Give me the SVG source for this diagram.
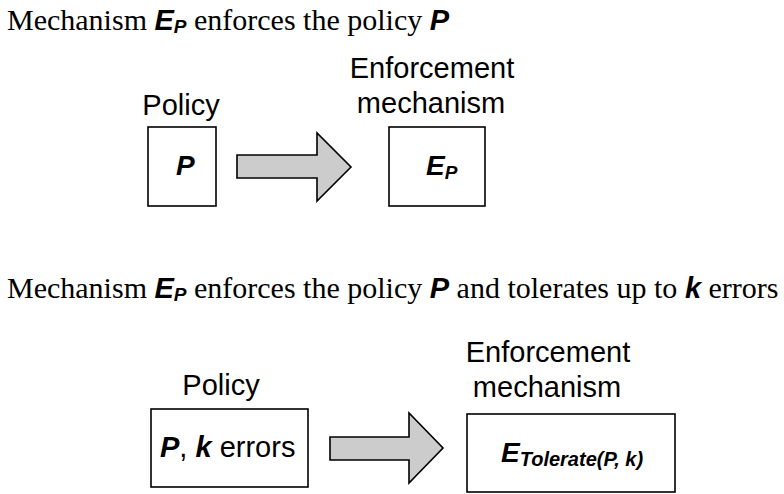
<svg xmlns="http://www.w3.org/2000/svg" width="784" height="494" viewBox="0 0 784 494">
  <style>
    .title { font-family: "Liberation Serif", "Times New Roman", serif; font-size: 30px; fill: #000; }
    .sans { font-family: "Liberation Sans", Arial, sans-serif; fill: #000; }
    .bi { font-family: "Liberation Sans", Arial, sans-serif; font-weight: bold; font-style: italic; }
    .label { font-family: "Liberation Sans", Arial, sans-serif; font-size: 29px; fill: #000; text-anchor: middle; }
    .box { fill: #fff; stroke: #000; stroke-width: 1.6; }
    .arrow { fill: #cccccc; stroke: #000; stroke-width: 1.6; stroke-linejoin: miter; }
  </style>
  <rect width="784" height="494" fill="#fff"/>

  <!-- captions -->
  <text class="title" x="7" y="30">Mechanism <tspan class="bi" font-size="29">E</tspan><tspan class="bi" font-size="19" dy="3">P</tspan><tspan dy="-3"> enforces the policy </tspan><tspan class="bi" font-size="29">P</tspan></text>
  <text class="title" x="7" y="298">Mechanism <tspan class="bi" font-size="29">E</tspan><tspan class="bi" font-size="19" dy="3">P</tspan><tspan dy="-3"> enforces the policy </tspan><tspan class="bi" font-size="29">P</tspan> and tolerates up to <tspan class="bi" font-size="29">k</tspan> errors</text>

  <!-- upper scenario -->
  <g id="policy-p">
    <text class="label" x="181" y="115">Policy</text>
    <rect class="box" x="148" y="127" width="68" height="79"/>
    <text class="sans bi" font-size="28" x="176" y="175">P</text>
  </g>
  <g id="mechanism-ep">
    <text class="label" x="432" y="78">Enforcement</text>
    <text class="label" x="431" y="113">mechanism</text>
    <rect class="box" x="389" y="127" width="96" height="79"/>
    <text class="sans" x="426" y="175"><tspan class="bi" font-size="28">E</tspan><tspan class="bi" font-size="19" dy="4">P</tspan></text>
  </g>

  <!-- lower scenario -->
  <g id="policy-pk">
    <text class="label" x="221" y="395">Policy</text>
    <rect class="box" x="151" y="409" width="157" height="78"/>
    <text class="sans" font-size="29" x="160" y="457"><tspan class="bi">P</tspan>, <tspan class="bi">k</tspan> errors</text>
  </g>
  <g id="mechanism-tolerate">
    <text class="label" x="548" y="362">Enforcement</text>
    <text class="label" x="547" y="397">mechanism</text>
    <rect class="box" x="467" y="414" width="208" height="78"/>
    <text class="sans" x="501" y="462"><tspan class="bi" font-size="28">E</tspan><tspan class="bi" font-size="20" dy="4">Tolerate(P, k)</tspan></text>
  </g>

  <!-- block arrows -->
  <g id="connectors">
    <path class="arrow" d="M237,155 H317 V133 L351,167 L317,201 V178 H237 Z"/>
    <path class="arrow" d="M330,437 H409 V413 L443,448 L409,483 V460 H330 Z"/>
  </g>
</svg>
